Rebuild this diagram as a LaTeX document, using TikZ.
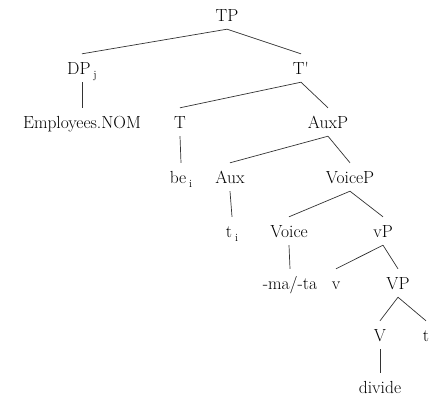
\documentclass[tikz,border=0pt]{standalone}
\newcommand\lowidx[1]{\,\raisebox{-4pt}{\fontsize{11}{12}\selectfont #1}}
\begin{document}
\begin{tikzpicture}[x=1pt,y=-1pt,
        lbl/.style={inner xsep=0pt,inner ysep=8pt,text height=12pt,text depth=0pt,font=\fontsize{17.5}{20}\selectfont},
        br/.style={line width=0.7pt,black!80}]
        \useasboundingbox (0,0) rectangle (431,397);
        \node[lbl] (TP) at (227,15) {TP};
        \node[lbl] (DP) at (82,68) {DP\lowidx{j}};
        \node[lbl] (Tbar) at (301,68) {T\textquotesingle};
        \node[lbl] (Emp) at (82,122) {Employees.NOM};
        \node[lbl] (T) at (180,122) {T};
        \node[lbl] (AuxP) at (328,122) {AuxP};
        \node[lbl] (be) at (181,177) {be\lowidx{i}};
        \node[lbl] (Aux) at (230,177) {Aux};
        \node[lbl] (VoiceP) at (350,177) {VoiceP};
        \node[lbl] (ti) at (232,231) {t\lowidx{i}};
        \node[lbl] (Voice) at (289,231) {Voice};
        \node[lbl] (vP) at (383,231) {vP};
        \node[lbl] (mata) at (290,283) {-ma/-ta};
        \node[lbl] (v) at (336,283) {v};
        \node[lbl] (VP) at (398,283) {VP};
        \node[lbl] (V) at (380,335) {V};
        \node[lbl] (t) at (426,335) {t};
        \node[lbl] (divide) at (380,387) {divide};
        \draw[br] (TP.south) -- (DP.north);
        \draw[br] (TP.south) -- (Tbar.north);
        \draw[br] (DP.south) -- (Emp.north);
        \draw[br] (Tbar.south) -- (T.north);
        \draw[br] (Tbar.south) -- (AuxP.north);
        \draw[br] (T.south) -- (be.north);
        \draw[br] (AuxP.south) -- (Aux.north);
        \draw[br] (AuxP.south) -- (VoiceP.north);
        \draw[br] (Aux.south) -- (ti.north);
        \draw[br] (VoiceP.south) -- (Voice.north);
        \draw[br] (VoiceP.south) -- (vP.north);
        \draw[br] (Voice.south) -- (mata.north);
        \draw[br] (vP.south) -- (v.north);
        \draw[br] (vP.south) -- (VP.north);
        \draw[br] (VP.south) -- (V.north);
        \draw[br] (VP.south) -- (t.north);
        \draw[br] (V.south) -- (divide.north);
\end{tikzpicture}
\end{document}
